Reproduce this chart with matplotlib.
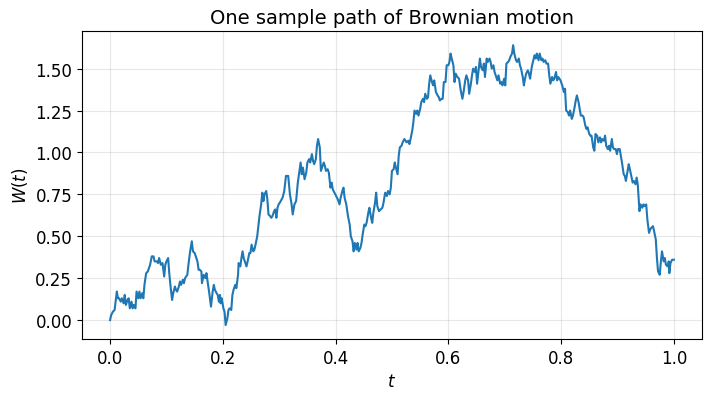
import numpy as np
import matplotlib
matplotlib.use("Agg")
import matplotlib.pyplot as plt

t1 = [0.000,0.002,0.005,0.008,0.012,0.014,0.016,0.019,0.021,0.024,0.026,0.028,0.031,0.033,0.035,0.038,0.040,0.042,0.045,0.047,0.050,0.052,0.054,0.057,0.059,0.061,0.064,0.067,0.071,0.074,0.077,0.079,0.083,0.085,0.087,0.090,0.093,0.096,0.098,0.100,0.103,0.105,0.107,0.110,0.112,0.115,0.117,0.119,0.122,0.124,0.126,0.129,0.131,0.133,0.137,0.139,0.142,0.145]
w1 = [0.00,0.03,0.05,0.06,0.17,0.13,0.13,0.11,0.13,0.10,0.15,0.09,0.12,0.13,0.07,0.11,0.07,0.09,0.07,0.17,0.13,0.17,0.13,0.16,0.13,0.21,0.28,0.29,0.33,0.38,0.38,0.35,0.35,0.34,0.37,0.33,0.34,0.26,0.33,0.35,0.37,0.28,0.21,0.12,0.16,0.20,0.18,0.17,0.20,0.23,0.21,0.24,0.22,0.25,0.27,0.33,0.41,0.47]

t2 = [0.147,0.150,0.152,0.155,0.157,0.159,0.162,0.163,0.166,0.169,0.171,0.173,0.176,0.179,0.182,0.184,0.186,0.189,0.191,0.193,0.195,0.196,0.198,0.201,0.203,0.205,0.208,0.210,0.212,0.215,0.217,0.219,0.222,0.224,0.227,0.228,0.231,0.233,0.235,0.237,0.240,0.242,0.244,0.247,0.249,0.251,0.254,0.256,0.258,0.261,0.263,0.265,0.268,0.270,0.272,0.274,0.277,0.279,0.281,0.284,0.286,0.288,0.291,0.293,0.295,0.297,0.299]
w2 = [0.41,0.40,0.38,0.35,0.30,0.30,0.29,0.22,0.27,0.25,0.28,0.23,0.16,0.08,0.17,0.21,0.18,0.16,0.15,0.11,0.15,0.10,0.13,0.07,0.05,-0.03,0.01,0.06,0.07,0.06,0.15,0.18,0.21,0.19,0.27,0.34,0.32,0.37,0.41,0.37,0.34,0.32,0.35,0.40,0.40,0.45,0.41,0.42,0.45,0.50,0.56,0.62,0.69,0.76,0.71,0.75,0.77,0.72,0.63,0.62,0.61,0.62,0.65,0.66,0.61,0.67,0.69]

t3 = [0.301,0.306,0.309,0.312,0.316,0.319,0.322,0.324,0.327,0.330,0.333,0.338,0.340,0.342,0.345,0.348,0.350,0.353,0.355,0.358,0.360,0.362,0.365,0.367,0.369,0.372,0.374,0.376,0.379,0.381,0.383,0.386,0.388,0.391,0.393,0.395,0.398,0.401,0.404,0.407,0.409,0.412,0.414,0.416,0.419,0.422,0.425,0.427,0.430,0.432,0.434,0.437,0.439,0.441,0.444,0.446,0.448,0.451,0.453,0.455,0.458]
w3 = [0.70,0.73,0.77,0.86,0.86,0.75,0.69,0.63,0.69,0.71,0.82,0.94,0.87,0.91,0.84,0.88,0.94,0.96,0.94,0.99,0.95,0.93,0.96,1.04,1.08,1.03,0.89,0.91,0.94,0.92,0.89,0.90,0.88,0.79,0.82,0.78,0.76,0.74,0.72,0.69,0.73,0.77,0.79,0.73,0.69,0.62,0.57,0.50,0.47,0.41,0.46,0.42,0.46,0.41,0.43,0.46,0.51,0.57,0.56,0.58,0.64]

t4 = [0.460,0.463,0.465,0.467,0.470,0.472,0.474,0.477,0.480,0.483,0.485,0.488,0.491,0.493,0.496,0.498,0.500,0.503,0.505,0.507,0.510,0.512,0.514,0.517,0.519,0.522,0.524,0.526,0.529,0.531,0.533,0.536,0.538,0.540,0.543,0.545,0.547,0.550,0.552,0.555,0.557,0.559,0.562,0.564,0.566,0.568,0.571,0.573,0.575,0.578,0.581,0.583,0.585,0.588,0.590,0.592,0.595,0.597,0.600,0.602,0.604,0.606,0.609,0.611,0.613,0.616]
w4 = [0.67,0.61,0.58,0.64,0.70,0.76,0.68,0.65,0.66,0.67,0.70,0.76,0.74,0.77,0.75,0.79,0.89,0.90,0.94,0.91,0.87,0.98,1.03,1.04,1.06,1.08,1.07,1.06,1.07,1.05,1.08,1.13,1.18,1.25,1.23,1.25,1.22,1.26,1.30,1.32,1.30,1.35,1.32,1.33,1.41,1.46,1.42,1.40,1.43,1.36,1.34,1.33,1.31,1.32,1.32,1.42,1.42,1.52,1.52,1.54,1.59,1.56,1.52,1.42,1.47,1.45]

t5 = [0.619,0.622,0.625,0.627,0.630,0.632,0.635,0.637,0.640,0.642,0.644,0.647,0.649,0.651,0.654,0.656,0.658,0.661,0.663,0.665,0.668,0.670,0.673,0.675,0.677,0.680,0.682,0.685,0.687,0.689,0.692,0.694,0.696,0.699,0.701,0.703,0.706,0.708,0.710,0.713,0.715,0.717,0.720,0.722,0.725,0.727,0.729,0.732,0.734,0.736,0.738,0.741,0.743,0.745,0.748,0.750,0.753,0.755,0.757,0.760,0.762,0.765,0.767,0.769,0.772,0.774,0.777,0.779,0.781,0.784,0.786,0.788,0.791,0.793,0.795]
w5 = [1.44,1.37,1.32,1.36,1.43,1.46,1.43,1.35,1.41,1.46,1.50,1.48,1.51,1.41,1.50,1.56,1.51,1.49,1.53,1.45,1.56,1.54,1.56,1.54,1.50,1.52,1.48,1.45,1.43,1.46,1.41,1.42,1.40,1.44,1.40,1.53,1.54,1.55,1.57,1.59,1.64,1.59,1.55,1.54,1.56,1.52,1.50,1.45,1.40,1.44,1.47,1.49,1.47,1.44,1.51,1.54,1.58,1.56,1.59,1.55,1.59,1.55,1.56,1.54,1.55,1.53,1.53,1.46,1.41,1.45,1.43,1.44,1.48,1.43,1.45]

t6 = [0.799,0.802,0.805,0.807,0.809,0.812,0.814,0.816,0.819,0.821,0.824,0.826,0.828,0.831,0.833,0.835,0.838,0.840,0.843,0.845,0.847,0.850,0.852,0.854,0.857,0.859,0.861,0.864,0.866,0.869,0.871,0.873,0.876,0.878,0.880,0.883,0.885,0.887,0.890,0.892,0.894,0.897,0.899,0.901,0.904,0.906,0.908,0.911,0.913,0.915,0.918,0.920,0.922,0.925,0.927,0.929,0.932,0.934,0.936,0.939,0.941,0.944,0.946,0.948,0.951,0.953,0.956,0.958,0.960,0.963,0.965,0.968,0.970,0.972,0.975,0.977,0.979,0.982,0.984,0.986,0.989,0.991,0.992,0.994,0.997,1.000]
w6 = [1.43,1.40,1.36,1.38,1.25,1.24,1.22,1.25,1.20,1.22,1.27,1.31,1.34,1.30,1.26,1.22,1.22,1.21,1.16,1.14,1.15,1.11,1.10,1.10,1.03,1.01,1.11,1.10,1.06,1.09,1.06,1.08,1.07,1.10,1.04,1.02,1.04,1.01,1.08,1.03,1.02,1.02,0.99,1.02,1.02,0.98,0.94,0.87,0.86,0.83,0.89,0.93,0.90,0.85,0.82,0.83,0.81,0.85,0.81,0.65,0.69,0.67,0.69,0.68,0.69,0.60,0.52,0.54,0.55,0.56,0.53,0.48,0.37,0.29,0.27,0.35,0.41,0.35,0.37,0.33,0.32,0.35,0.28,0.34,0.36,0.36]

title = "One sample path of Brownian motion"
xlabel = "$t$"
ylabel = "$W(t)$"

t = np.concatenate([t1, t2, t3, t4, t5, t6])
W = np.concatenate([w1, w2, w3, w4, w5, w6])

plt.rcParams['font.family'] = ['DejaVu Sans']
fig = plt.figure(figsize=(7.12, 4.02), dpi=100)
ax = fig.add_axes([0.115, 0.154, 0.871, 0.766])
ax.plot(t, W, color='#1f77b4', linewidth=1.5)
ax.grid(True, alpha=0.3)
ax.set_title(title, fontsize=14)
ax.set_xlabel(xlabel, fontsize=12)
ax.set_ylabel(ylabel, fontsize=12)
ax.tick_params(labelsize=12)
fig.savefig("out.png", dpi=100)
